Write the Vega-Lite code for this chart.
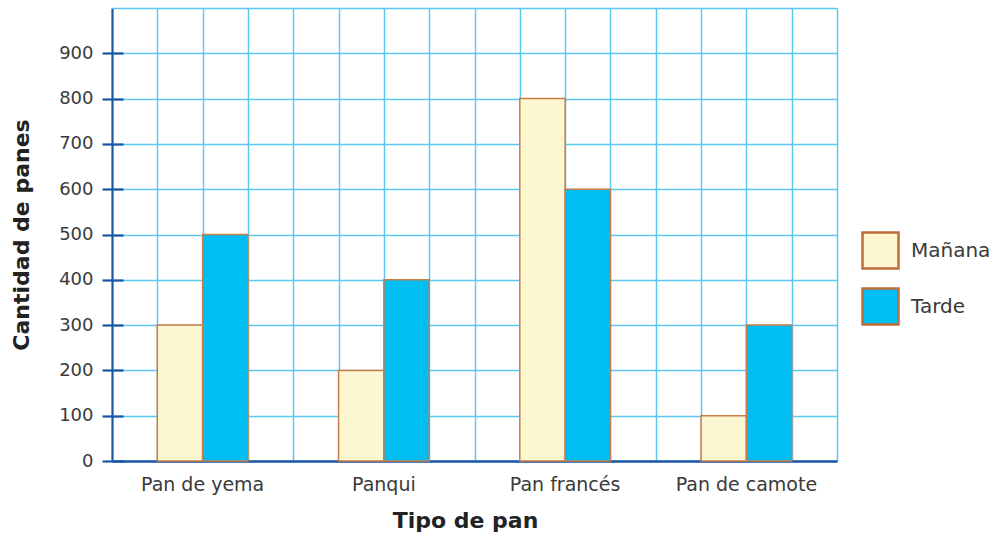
{
  "$schema": "https://vega.github.io/schema/vega-lite/v6.json",
  "width": 725,
  "height": 453,
  "autosize": "none",
  "padding": {"left": 112, "top": 8, "right": 161, "bottom": 74},
  "background": "white",
  "config": {
    "view": {"stroke": null},
    "font": "DejaVu Sans"
  },
  "data": {
    "values": [
      {"tipo": "Pan de yema", "turno": "Mañana", "cantidad": 300},
      {"tipo": "Pan de yema", "turno": "Tarde", "cantidad": 500},
      {"tipo": "Panqui", "turno": "Mañana", "cantidad": 200},
      {"tipo": "Panqui", "turno": "Tarde", "cantidad": 400},
      {"tipo": "Pan francés", "turno": "Mañana", "cantidad": 800},
      {"tipo": "Pan francés", "turno": "Tarde", "cantidad": 600},
      {"tipo": "Pan de camote", "turno": "Mañana", "cantidad": 100},
      {"tipo": "Pan de camote", "turno": "Tarde", "cantidad": 300}
    ]
  },
  "layer": [
    {
      "mark": {"type": "point", "opacity": 0},
      "encoding": {
        "x": {
          "datum": 0,
          "type": "quantitative",
          "scale": {"domain": [0, 16], "nice": false, "zero": false},
          "axis": {
            "orient": "top",
            "title": null,
            "values": [0,1,2,3,4,5,6,7,8,9,10,11,12,13,14,15,16],
            "labels": false,
            "ticks": false,
            "domain": false,
            "grid": true,
            "gridColor": {"condition": {"test": "datum.value === 0", "value": "#1B55A5"}, "value": "#5CC8F0"},
            "gridWidth": {"condition": {"test": "datum.value === 0", "value": 2.2}, "value": 1.5},
            "gridOpacity": 1
          }
        }
      }
    },
    {
      "mark": {"type": "bar", "stroke": "#C97E4A", "strokeWidth": 1.5},
      "encoding": {
        "x": {
          "field": "tipo",
          "type": "nominal",
          "sort": ["Pan de yema", "Panqui", "Pan francés", "Pan de camote"],
          "scale": {"paddingInner": 0.5, "paddingOuter": 0.25},
          "axis": {
            "title": "Tipo de pan",
            "titleFontSize": 22,
            "titleFontWeight": "bold",
            "titleColor": "#222222",
            "titlePadding": 16,
            "titleX": 353,
            "labelAngle": 0,
            "labelFontSize": 19,
            "labelColor": "#3a3a3a",
            "labelPadding": 14,
            "ticks": false,
            "domain": true,
            "domainColor": "#1B55A5",
            "domainWidth": 2.5,
            "grid": false
          }
        },
        "xOffset": {
          "field": "turno",
          "type": "nominal",
          "sort": ["Mañana", "Tarde"],
          "scale": {"paddingInner": 0, "paddingOuter": 0}
        },
        "y": {
          "field": "cantidad",
          "type": "quantitative",
          "scale": {"domain": [0, 1000], "nice": false},
          "axis": {
            "title": "Cantidad de panes",
            "titleFontSize": 22,
            "titleFontWeight": "bold",
            "titleColor": "#222222",
            "titlePadding": 25,
            "values": [0,100,200,300,400,500,600,700,800,900,1000],
            "labelExpr": "datum.value >= 1000 ? '' : datum.label",
            "labelFontSize": 18,
            "labelColor": "#3a3a3a",
            "labelPadding": 9,
            "offset": -11,
            "tickSize": 21,
            "tickWidth": 2.2,
            "tickColor": "#1B55A5",
            "tickOpacity": {"condition": {"test": "datum.value >= 1000", "value": 0}, "value": 1},
            "domain": false,
            "grid": true,
            "gridColor": "#5CC8F0",
            "gridWidth": 1.5,
            "gridOpacity": 1
          }
        },
        "color": {
          "field": "turno",
          "type": "nominal",
          "scale": {"domain": ["Mañana", "Tarde"], "range": ["#FCF7D0", "#00BDF2"]},
          "legend": {
            "title": null,
            "orient": "none",
            "legendX": 749,
            "legendY": 223,
            "padding": 0,
            "symbolType": "square",
            "symbolSize": 1296,
            "symbolStrokeColor": "#BF6E3A",
            "symbolStrokeWidth": 2.5,
            "symbolOpacity": 1,
            "labelFontSize": 20,
            "labelColor": "#3a3a3a",
            "labelOffset": 11,
            "rowPadding": 9
          }
        }
      }
    }
  ],
  "resolve": {"scale": {"x": "independent"}, "axis": {"x": "independent"}}
}
